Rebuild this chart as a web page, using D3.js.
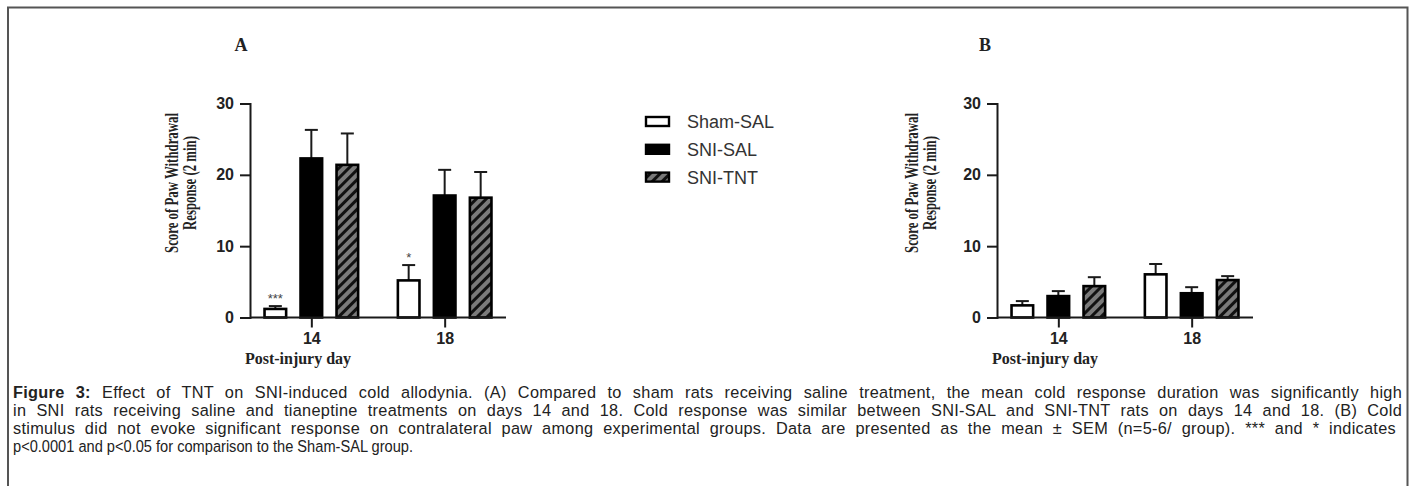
<!DOCTYPE html>
<html>
<head>
<meta charset="utf-8">
<script src="https://cdn.jsdelivr.net/npm/d3@7"></script>
<style>
  body { margin: 0; background: #fff; }
  svg { display: block; }
</style>
</head>
<body>
<div id="chart"></div>
<script>
// values
const days = ["14", "18"];
const groups = ["Sham-SAL", "SNI-SAL", "SNI-TNT"];
const yTicks = [0, 10, 20, 30];

// panel A (ipsilateral), per day: [Sham-SAL, SNI-SAL, SNI-TNT]
const meanA = [[1.2, 22.3, 21.4], [5.2, 17.1, 16.8]];
const semA = [[0.4, 4.0, 4.4], [2.15, 3.6, 3.6]];
const starsA = [["***", "", ""], ["*", "", ""]];

// panel B (contralateral)
const meanB = [[1.7, 3.0, 4.4], [6.05, 3.4, 5.25]];
const semB = [[0.6, 0.7, 1.25], [1.45, 0.85, 0.55]];
const starsB = [["", "", ""], ["", "", ""]];

const captionLines = [
  "Effect of TNT on SNI-induced cold allodynia. (A) Compared to sham rats receiving saline treatment, the mean cold response duration was significantly high",
  "in SNI rats receiving saline and tianeptine treatments on days 14 and 18. Cold response was similar between SNI-SAL and SNI-TNT rats on days 14 and 18. (B) Cold",
  "stimulus did not evoke significant response on contralateral paw among experimental groups. Data are presented as the mean ± SEM (n=5-6/ group). *** and * indicates",
  "p<0.0001 and p<0.05 for comparison to the Sham-SAL group."
];

const width = 1415, height = 486;
const ink = "#1a1a1a";

const svg = d3.select("#chart").append("svg")
    .attr("width", width)
    .attr("height", height);

// hatch for SNI-TNT
const defs = svg.append("defs");
const pat = defs.append("pattern")
    .attr("id", "hatch")
    .attr("patternUnits", "userSpaceOnUse")
    .attr("width", 7)
    .attr("height", 7)
    .attr("patternTransform", "rotate(45)");
pat.append("rect").attr("width", 7).attr("height", 7).attr("fill", "#7a7a7a");
pat.append("line")
    .attr("x1", 1.5).attr("y1", 0).attr("x2", 1.5).attr("y2", 7)
    .attr("stroke", "#111").attr("stroke-width", 3);

const fills = ["#fff", "#000", "url(#hatch)"];

// frame round the figure
svg.append("path")
    .attr("d", "M8,486 V7.5 H1407.5 V486")
    .attr("fill", "none")
    .attr("stroke", "#555")
    .attr("stroke-width", 2);

const y = d3.scaleLinear().domain([0, 30]).range([317.5, 103.5]);
const inner = d3.scalePoint().domain(groups).range([-36, 36]);
const barW = 24;

function drawPanel(opt) {
    const g = svg.append("g");
    const x = d3.scalePoint().domain(days).range([opt.left, opt.left + 256]).padding(0.46);

    // bars
    days.forEach((day, di) => {
        groups.forEach((grp, gi) => {
            const cx = x(day) + inner(grp);
            const m = opt.mean[di][gi], s = opt.sem[di][gi];
            // error bar (upper only)
            g.append("line")
                .attr("x1", cx).attr("x2", cx)
                .attr("y1", y(m)).attr("y2", y(m + s))
                .attr("stroke", ink).attr("stroke-width", 2);
            g.append("line")
                .attr("x1", cx - 6.5).attr("x2", cx + 6.5)
                .attr("y1", y(m + s)).attr("y2", y(m + s))
                .attr("stroke", ink).attr("stroke-width", 2);
            g.append("rect")
                .attr("x", cx - barW / 2 + 1.2)
                .attr("y", y(m))
                .attr("width", barW - 2.4)
                .attr("height", y(0) - y(m))
                .attr("fill", fills[gi])
                .attr("stroke", "#000")
                .attr("stroke-width", 2.6);
            const star = opt.stars[di][gi];
            if (star) {
                g.append("text")
                    .attr("x", cx)
                    .attr("y", y(m + s) - 3)
                    .attr("text-anchor", "middle")
                    .attr("font-family", "Liberation Sans, Arial, sans-serif")
                    .attr("font-size", 13)
                    .attr("fill", "#444")
                    .text(star);
            }
        });
    });

    // y axis
    const ya = g.append("g")
        .attr("transform", `translate(${opt.left},0)`)
        .call(d3.axisLeft(y).tickValues(yTicks).tickSize(10).tickPadding(6));
    // x axis
    const xa = g.append("g")
        .attr("transform", `translate(0,${y(0)})`)
        .call(d3.axisBottom(x).tickSize(10).tickPadding(5));
    [ya, xa].forEach(a => {
        a.select(".domain").attr("stroke", ink).attr("stroke-width", 2);
        a.selectAll(".tick line").attr("stroke", ink).attr("stroke-width", 2);
        a.selectAll(".tick text")
            .attr("fill", "#222")
            .attr("font-family", "Liberation Sans, Arial, sans-serif")
            .attr("font-weight", "bold")
            .attr("font-size", 16);
    });
    xa.select(".domain").attr("d", `M${opt.left},0H${opt.left + 256}`);

    // panel letter
    g.append("text")
        .attr("x", opt.letterX).attr("y", 51)
        .attr("text-anchor", "middle")
        .attr("font-family", "Liberation Serif, Times New Roman, serif")
        .attr("font-weight", "bold")
        .attr("font-size", 18)
        .attr("fill", "#222")
        .text(opt.letter);

    // x title
    g.append("text")
        .attr("x", opt.left + 48).attr("y", 364)
        .attr("text-anchor", "middle")
        .attr("font-family", "Liberation Serif, Times New Roman, serif")
        .attr("font-weight", "bold")
        .attr("font-size", 16)
        .attr("fill", "#222")
        .text("Post-injury day");

    // y title, two condensed lines
    [["Score of Paw Withdrawal", opt.left - opt.yl1, 140], ["Response (2 min)", opt.left - opt.yl2, 94]].forEach(([t, tx, len]) => {
        g.append("text")
            .attr("transform", `translate(${tx},183) rotate(-90)`)
            .attr("text-anchor", "middle")
            .attr("font-family", "Liberation Serif, Times New Roman, serif")
            .attr("font-weight", "bold")
            .attr("font-size", 19)
            .attr("fill", "#222")
            .attr("textLength", len)
            .attr("lengthAdjust", "spacingAndGlyphs")
            .text(t);
    });
}

drawPanel({ left: 250, mean: meanA, sem: semA, stars: starsA, letter: "A", letterX: 241, yl1: 72, yl2: 54 });
drawPanel({ left: 997, mean: meanB, sem: semB, stars: starsB, letter: "B", letterX: 985, yl1: 79, yl2: 61 });

// legend
const legend = svg.append("g");
groups.forEach((grp, i) => {
    const cy = 121.5 + i * 27.8;
    legend.append("rect")
        .attr("x", 646).attr("y", cy - 4.5)
        .attr("width", 23).attr("height", 9)
        .attr("fill", fills[i])
        .attr("stroke", "#000").attr("stroke-width", 2.4);
    legend.append("text")
        .attr("x", 687).attr("y", cy + 6.5)
        .attr("font-family", "Liberation Sans, Arial, sans-serif")
        .attr("font-size", 18)
        .attr("fill", "#333")
        .text(grp);
});

// caption: justified lines like the source, last line left as it runs
const cap = svg.append("g")
    .attr("font-family", "Liberation Sans, Arial, sans-serif")
    .attr("font-size", 16.3)
    .attr("fill", "#222");
const lineEnds = [1402, 1402, 1396, null];
captionLines.forEach((line, i) => {
    const t = cap.append("text")
        .attr("x", 13)
        .attr("y", 397.5 + i * 18.2);
    if (i === 0) {
        t.append("tspan").attr("font-weight", "bold").text("Figure 3:");
        t.append("tspan").text(" " + line);
    } else {
        t.text(line);
    }
    if (lineEnds[i]) {
        t.attr("letter-spacing", 0.3);
        const natural = t.node().getComputedTextLength();
        const spaces = (t.text().match(/ /g) || []).length;
        t.attr("word-spacing", Math.max(0, (lineEnds[i] - 13 - natural) / spaces));
    } else {
        t.attr("textLength", 400).attr("lengthAdjust", "spacingAndGlyphs");
    }
});
</script>
</body>
</html>
